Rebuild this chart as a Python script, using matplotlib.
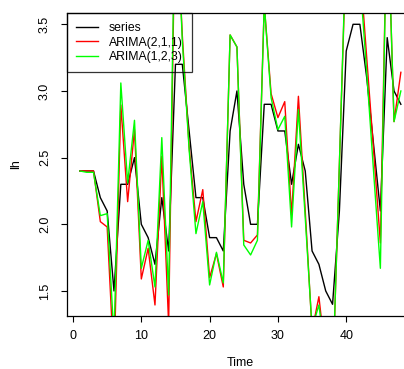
import matplotlib
matplotlib.use("Agg")
import matplotlib.pyplot as plt
import numpy as np

plt.rcParams['font.family'] = ['Liberation Sans', 'DejaVu Sans']

# lh series (R datasets) and two ARIMA fitted/forecast lines
lh = [2.4, 2.4, 2.4, 2.2, 2.1, 1.5, 2.3, 2.3, 2.5, 2.0, 1.9, 1.7, 2.2, 1.8,
      3.2, 3.2, 2.7, 2.2, 2.2, 1.9, 1.9, 1.8, 2.7, 3.0, 2.3, 2.0, 2.0, 2.9,
      2.9, 2.7, 2.7, 2.3, 2.6, 2.4, 1.8, 1.7, 1.5, 1.4, 2.1, 3.3, 3.5, 3.5,
      3.1, 2.6, 2.1, 3.4, 3.0, 2.9]
arima211 = [2.40, 2.40, 2.40, 2.02, 1.98, 0.95, 2.895, 2.17, 2.71, 1.59,
            1.82, 1.395, 2.51, 1.25, 4.5, 3.42, 2.58, 2.02, 2.26, 1.60,
            1.78, 1.53, 3.42, 3.33, 1.88, 1.86, 1.92, 3.65, 2.98, 2.80,
            2.92, 2.07, 2.96, 2.10, 1.20, 1.457, 1.0, 0.8, 2.45, 4.1,
            4.2, 3.95, 3.25, 2.56, 1.86, 4.45, 2.77, 3.14]
arima123 = [2.40, 2.39, 2.39, 2.065, 2.08, 1.15, 3.06, 2.31, 2.78, 1.67,
            1.88, 1.53, 2.65, 1.47, 4.6, 3.38, 2.56, 1.93, 2.17, 1.545,
            1.79, 1.56, 3.42, 3.33, 1.845, 1.77, 1.88, 3.65, 2.95, 2.71,
            2.81, 1.98, 2.86, 2.05, 1.22, 1.395, 1.0, 0.8, 2.45, 4.15,
            4.2, 3.85, 3.14, 2.40, 1.67, 4.48, 2.77, 3.00]
time = np.arange(1, len(lh) + 1)

W, H = 404, 369
fig = plt.figure(figsize=(W / 100, H / 100), dpi=100)
ax = fig.add_axes([67 / W, (H - 315.5) / H, 346.7 / W, 302.4 / H])

ax.plot(time, lh, color='black', lw=1.0, label='series')
ax.plot(time, arima211, color='#ff0000', lw=1.0, label='ARIMA(2,1,1)')
ax.plot(time, arima123, color='#00ff00', lw=1.0, label='ARIMA(1,2,3)')

ax.set_xlim(-0.88, 49.88)
ax.set_ylim(1.316, 3.584)
ax.set_xticks([0, 10, 20, 30, 40])
ax.set_yticks([1.5, 2.0, 2.5, 3.0, 3.5])
ax.set_yticklabels(['1.5', '2.0', '2.5', '3.0', '3.5'], rotation=90, va='center')
ax.tick_params(axis='both', direction='out', length=4.5, width=0.8, labelsize=9)
ax.tick_params(axis='x', pad=6)
ax.tick_params(axis='y', pad=7)
for s in ax.spines.values():
    s.set_linewidth(0.9)

ax.set_xlabel('Time', fontsize=9, labelpad=10.5)
ax.set_ylabel('lh', fontsize=9, labelpad=12)

leg = ax.legend(loc='upper left', bbox_to_anchor=(0, 1), borderaxespad=0,
                fancybox=False, edgecolor='black', facecolor='none',
                fontsize=8.8, handlelength=1.8, handletextpad=0.85,
                labelspacing=0.2, borderpad=0.75)
leg.get_frame().set_linewidth(0.9)

fig.savefig('out.png', dpi=100)
